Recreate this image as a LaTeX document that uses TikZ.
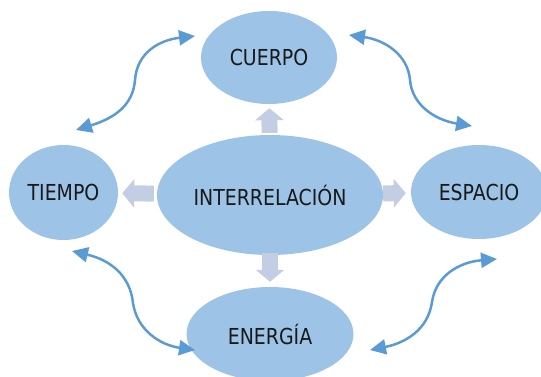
\documentclass[tikz,border=0pt]{standalone}
\usepackage{fontspec}
\setmainfont{DejaVu Sans}[FakeStretch=0.86]
\usetikzlibrary{shapes.geometric,arrows.meta}

\definecolor{nodefill}{HTML}{9DC3E6}
\definecolor{linkblue}{HTML}{5B9BD5}
\definecolor{blockgray}{HTML}{C3CEE4}

\begin{document}
\begin{tikzpicture}[x=1pt,y=-1pt,
  bubble/.style={ellipse, fill=nodefill, inner sep=0pt, text=black!90,
    font=\fontsize{22}{25}\selectfont},
  blockarrow/.style={draw=blockgray, line width=16pt,
    -{Triangle[width=28pt,length=12pt]}},
  link/.style={draw=linkblue, line width=2.5pt,
    {Triangle[width=15pt,length=16pt]}-{Triangle[width=15pt,length=16pt]}}]
\useasboundingbox (0,0) rectangle (541,376);
\clip (0,0) rectangle (541,376);

% Centre
\node[bubble, minimum width=226pt, minimum height=120pt] (inter) at (270,195) {INTERRELACIÓN};

% Outer bubbles
\node[bubble, minimum width=136pt, minimum height=93pt] (cuerpo) at (269,57.5) {CUERPO};
\node[bubble, minimum width=109pt, minimum height=95pt] (tiempo) at (63.5,192.5) {TIEMPO};
\node[bubble, minimum width=136pt, minimum height=94pt] (espacio) at (479,192) {ESPACIO};
\node[bubble, minimum width=167pt, minimum height=94pt] (energia) at (270,334) {ENERGÍA};

% Block arrows from the centre
\draw[blockarrow, shorten <=2pt, shorten >=4pt] (inter) -- (cuerpo);
\draw[blockarrow, shorten <=3pt, shorten >=4pt] (inter) -- (tiempo);
\draw[blockarrow, shorten <=0pt, shorten >=5pt] (inter) -- (espacio);
\draw[blockarrow, shorten <=-2pt, shorten >=5pt] (inter) -- (energia);

% Ends of the curved links
\coordinate (tl-a) at (76,130);
\coordinate (tl-b) at (195,36);
\coordinate (tr-a) at (349,35);
\coordinate (tr-b) at (472,126);
\coordinate (bl-a) at (72,251);
\coordinate (bl-b) at (195,350);
\coordinate (br-a) at (370,350);
\coordinate (br-b) at (497,259);

% Curved links
\draw[link] (tl-a) .. controls (115,118) and (133,105) .. (135,80)
  .. controls (137,52) and (160,40) .. (tl-b);
\draw[link] (tr-a) .. controls (385,40) and (408,55) .. (410,80)
  .. controls (412,105) and (435,120) .. (tr-b);
\draw[link] (bl-a) .. controls (110,260) and (130,275) .. (133,303)
  .. controls (137,330) and (160,345) .. (bl-b);
\draw[link] (br-a) .. controls (405,343) and (428,330) .. (432,302)
  .. controls (436,275) and (460,262) .. (br-b);
\end{tikzpicture}
\end{document}
